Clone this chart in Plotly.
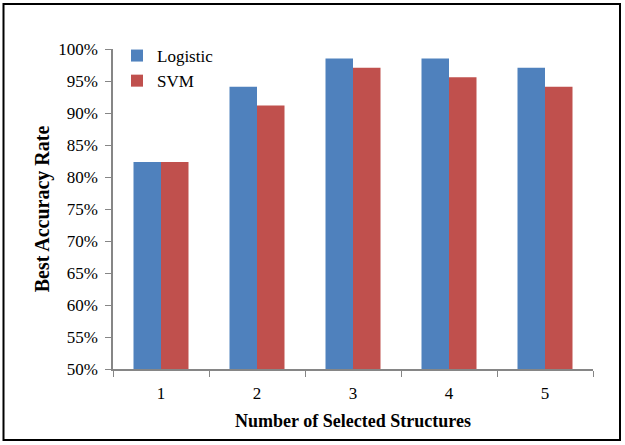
import plotly.graph_objects as go

categories = ["1", "2", "3", "4", "5"]
logistic = [82.35, 94.12, 98.53, 98.53, 97.06]
svm = [82.35, 91.18, 97.06, 95.59, 94.12]
y_ticks = [50, 55, 60, 65, 70, 75, 80, 85, 90, 95, 100]
y_tick_labels = [f"{v}%" for v in y_ticks]

font_family = "Liberation Serif, Times New Roman, serif"
axis_color = "#868686"

fig = go.Figure()
fig.add_trace(go.Bar(x=categories, y=logistic, name="Logistic",
                     marker=dict(color="#4F81BD", line=dict(width=0))))
fig.add_trace(go.Bar(x=categories, y=svm, name="SVM",
                     marker=dict(color="#C0504D", line=dict(width=0))))

W, H = 625, 445
L, R, T, B = 113, 32, 49, 76
pw, ph = W - L - R, H - T - B

def px(x):
    return (x - L) / pw

def py(y):
    return (H - B - y) / ph

fig.update_layout(
    width=W, height=H,
    margin=dict(l=L, r=R, t=T, b=B, pad=0),
    paper_bgcolor="white", plot_bgcolor="white",
    barmode="group", bargap=0.427, bargroupgap=0,
    font=dict(family=font_family, color="black", size=17),
    showlegend=True,
    legend=dict(x=px(117), y=py(38), xanchor="left", yanchor="top",
                bgcolor="rgba(0,0,0,0)", font=dict(size=17, family=font_family),
                itemwidth=30, tracegroupgap=0),
    xaxis=dict(type="category", tickson="boundaries", ticks="outside",
               ticklen=6, tickcolor=axis_color, showline=True,
               linecolor=axis_color, linewidth=1.5, showgrid=False,
               ticklabelstandoff=8,
               tickfont=dict(size=17, family=font_family),
               title=dict(text="<b>Number of Selected Structures</b>",
                          font=dict(size=18, family=font_family), standoff=12)),
    yaxis=dict(range=[50, 100], tickmode="array", tickvals=y_ticks,
               ticktext=y_tick_labels,
               ticks="outside", ticklen=6, tickcolor=axis_color,
               showline=True, linecolor=axis_color, linewidth=1.5,
               showgrid=False, zeroline=False, ticklabelstandoff=4,
               tickfont=dict(size=17, family=font_family),
               title=dict(text="<b>Best Accuracy Rate</b>",
                          font=dict(size=20, family=font_family), standoff=3)),
)

fig.add_shape(type="rect", xref="paper", yref="paper",
              x0=px(3.5), x1=px(620), y0=py(440), y1=py(4),
              line=dict(color="black", width=2), fillcolor="rgba(0,0,0,0)",
              layer="above")

fig.write_html("out.html", config={"displayModeBar": False},
               post_script="document.body.style.margin='0';document.body.style.overflow='hidden';")
